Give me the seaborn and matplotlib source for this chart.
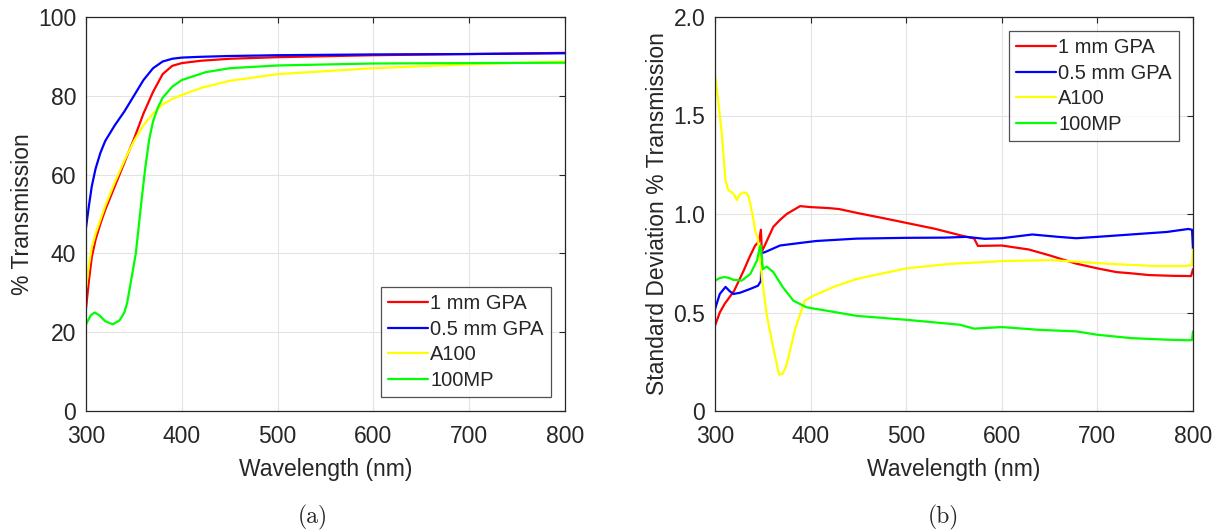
import numpy as np
import pandas as pd
import seaborn as sns
import matplotlib
matplotlib.use("Agg")
import matplotlib.pyplot as plt

# ---------------- data ----------------
series_names = ["1 mm GPA", "0.5 mm GPA", "A100", "100MP"]
series_colors = ["#FF0000", "#0000FF", "#FFFF00", "#00FF00"]

# (a) % Transmission
wl_a_red = [300, 303, 306, 310, 315, 320, 330, 340, 350, 360, 370, 380, 390, 400, 420, 450, 500, 600, 700, 800]
tr_red = [26, 33, 39, 43.5, 47.5, 51, 57, 63, 69, 75.5, 81, 85.5, 87.6, 88.3, 88.9, 89.4, 89.8, 90.3, 90.6, 90.9]
wl_a_blue = [300, 303, 306, 310, 315, 320, 330, 340, 350, 360, 370, 380, 390, 400, 420, 450, 500, 600, 700, 800]
tr_blue = [46.5, 52, 57, 61.5, 65.5, 68.5, 72.5, 76, 80, 84, 87, 88.7, 89.4, 89.7, 89.9, 90.1, 90.3, 90.5, 90.6, 90.8]
wl_a_yel = [300, 303, 306, 310, 315, 320, 330, 340, 350, 360, 370, 380, 390, 400, 420, 450, 500, 600, 700, 800]
tr_yel = [31, 37, 41.5, 45, 48.5, 52, 58, 63.5, 68.5, 72.5, 75.5, 77.8, 79.2, 80.2, 82, 83.8, 85.5, 87, 88, 88.7]
wl_a_grn = [300, 305, 309, 314, 320, 328, 335, 340, 343, 347, 352, 358, 362, 366, 370, 375, 380, 390, 400, 425, 450, 500, 600, 700, 800]
tr_grn = [22, 24.3, 25, 24.3, 22.8, 22, 23, 25, 27.5, 33, 40, 53.5, 62, 69, 73.5, 77, 79.5, 82.3, 84, 86, 87, 87.7, 88.2, 88.3, 88.4]

# (b) Standard deviation % transmission
wl_b_red = [300, 305, 310, 320, 330, 336, 342, 346, 348, 349, 352, 361, 368, 375, 389, 400, 419, 430, 449, 475, 500,
            530, 563, 571, 575, 600, 628, 650, 677, 700, 720, 735, 754, 780, 798, 800]
sd_red = [0.433, 0.50, 0.543, 0.61, 0.713, 0.78, 0.84, 0.86, 0.92, 0.81, 0.84, 0.935, 0.97, 1.0, 1.04, 1.035, 1.03,
          1.025, 1.005, 0.98, 0.955, 0.925, 0.884, 0.876, 0.838, 0.84, 0.82, 0.79, 0.749, 0.724, 0.705, 0.699, 0.69,
          0.686, 0.685, 0.72]
wl_b_blue = [300, 305, 311, 315, 319, 326, 337, 345, 348, 348.5, 354, 368, 389, 406, 448, 500, 540, 563, 582, 600,
             632, 659, 678, 700, 735, 773, 795, 799, 800]
sd_blue = [0.517, 0.594, 0.63, 0.61, 0.594, 0.60, 0.62, 0.636, 0.66, 0.80, 0.81, 0.84, 0.853, 0.863, 0.875, 0.879,
           0.88, 0.884, 0.874, 0.877, 0.896, 0.884, 0.877, 0.884, 0.896, 0.909, 0.924, 0.92, 0.82]
wl_b_yel = [300, 303, 307, 311, 314, 318, 321, 323, 326, 330, 333, 335, 339, 342, 345, 349, 354, 361, 367, 371, 375,
            384, 394, 403, 424, 448, 500, 544, 600, 651, 678, 716, 761, 792, 799, 800]
sd_yel = [1.71, 1.59, 1.41, 1.17, 1.12, 1.11, 1.09, 1.07, 1.10, 1.11, 1.105, 1.09, 1.005, 0.918, 0.87, 0.68, 0.49,
          0.32, 0.184, 0.19, 0.235, 0.42, 0.56, 0.585, 0.63, 0.67, 0.724, 0.746, 0.761, 0.766, 0.758, 0.746, 0.736,
          0.736, 0.74, 0.82]
wl_b_grn = [300, 305, 310, 315, 319, 328, 337, 344, 347, 348, 350, 354, 361, 371, 382, 396, 417, 448, 500, 556, 571,
            600, 639, 678, 700, 735, 773, 795, 799, 800]
sd_grn = [0.662, 0.675, 0.68, 0.675, 0.666, 0.662, 0.696, 0.765, 0.833, 0.84, 0.72, 0.733, 0.705, 0.628, 0.56, 0.526,
          0.509, 0.483, 0.463, 0.438, 0.418, 0.426, 0.412, 0.404, 0.387, 0.37, 0.362, 0.359, 0.36, 0.404]

x_ticks = [300, 400, 500, 600, 700, 800]
y_ticks_a = [0, 20, 40, 60, 80, 100]
y_ticks_b = [0, 0.5, 1.0, 1.5, 2.0]
y_ticklabels_b = ["0", "0.5", "1.0", "1.5", "2.0"]


def long_df(xs, ys):
    frames = []
    for name, x, y in zip(series_names, xs, ys):
        frames.append(pd.DataFrame({"wl": x, "val": y, "series": name}))
    return pd.concat(frames, ignore_index=True)


df_a = long_df([wl_a_red, wl_a_blue, wl_a_yel, wl_a_grn], [tr_red, tr_blue, tr_yel, tr_grn])
df_b = long_df([wl_b_red, wl_b_blue, wl_b_yel, wl_b_grn], [sd_red, sd_blue, sd_yel, sd_grn])

# ---------------- style ----------------
sns.set_theme(style="white")
plt.rcParams["font.family"] = ["Liberation Sans", "DejaVu Sans"]
tc = "#262626"
plt.rcParams.update({
    "text.color": tc, "axes.labelcolor": tc, "xtick.color": tc, "ytick.color": tc,
    "axes.edgecolor": tc,
})

palette = dict(zip(series_names, series_colors))

fig = plt.figure(figsize=(12.14, 5.31), dpi=100)
ax_a = fig.add_axes([86 / 1214, 1 - 411 / 531, (565 - 86) / 1214, (411 - 17) / 531])
ax_b = fig.add_axes([715 / 1214, 1 - 411 / 531, (1193 - 715) / 1214, (411 - 17) / 531])

for ax, df, ylim, yt, ylab in [
    (ax_a, df_a, (0, 100), y_ticks_a, "% Transmission"),
    (ax_b, df_b, (0, 2.0), y_ticks_b, "Standard Deviation % Transmission"),
]:
    sns.lineplot(data=df, x="wl", y="val", hue="series", hue_order=series_names, palette=palette,
                 estimator=None, sort=False, linewidth=1.6, ax=ax)
    ax.set_xlim(300, 800)
    ax.set_ylim(*ylim)
    ax.set_xticks(x_ticks)
    ax.set_yticks(yt)
    ax.grid(True, color="#e3e3e3", linewidth=0.8)
    ax.set_axisbelow(True)
    for s in ax.spines.values():
        s.set_color(tc)
        s.set_linewidth(0.9)
    ax.tick_params(direction="in", length=4, width=0.8, top=True, right=True, labelsize=16.5)
    ax.tick_params(axis="x", pad=10)
    ax.tick_params(axis="y", pad=7)
    ax.set_xlabel("Wavelength (nm)", fontsize=16.5, labelpad=7)
    ax.set_ylabel(ylab, fontsize=16.5, labelpad=3)

ax_b.set_yticklabels(y_ticklabels_b)

leg_kw = dict(fontsize=14.5, handlelength=2.0, handletextpad=0.1, borderpad=0.35, labelspacing=0.33,
              frameon=True, fancybox=False, edgecolor=tc, borderaxespad=0.7)
la = ax_a.legend(loc="lower right", **leg_kw)
lb = ax_b.legend(loc="upper right", **leg_kw)
for lg in (la, lb):
    lg.get_frame().set_linewidth(0.9)
    for h in lg.legend_handles:
        h.set_linewidth(1.6)

fig.text(313 / 1214, 1 - 517 / 531, "(a)", ha="center", va="center", fontsize=17, family="cmr10")
fig.text(943 / 1214, 1 - 517 / 531, "(b)", ha="center", va="center", fontsize=17, family="cmr10")

fig.savefig("out.png", dpi=100)
